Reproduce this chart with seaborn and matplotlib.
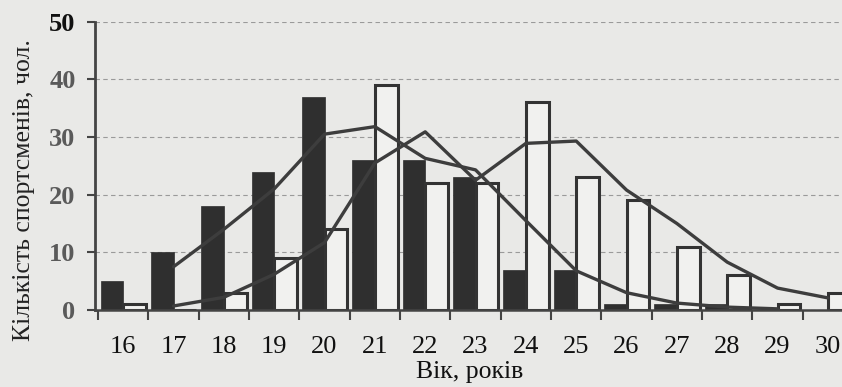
import matplotlib
matplotlib.use("Agg")
import matplotlib.pyplot as plt
import seaborn as sns
import pandas as pd
import numpy as np

# ---- data ----
ages = [16, 17, 18, 19, 20, 21, 22, 23, 24, 25, 26, 27, 28, 29, 30]
group_a = [5, 10, 18, 24, 37, 26, 26, 23, 7, 7, 1, 1, 1, 0, 0]      # filled bars
group_b = [1, 0, 3, 9, 14, 39, 22, 22, 36, 23, 19, 11, 6, 1, 3]     # open bars

curve_a_ages = [17, 18, 19, 20, 21, 22, 23, 24, 25, 26, 27, 28, 29]
curve_a = [7.5, 14, 21, 30.5, 31.8, 26.3, 24.3, 15.5, 6.8, 3, 1.2, 0.5, 0.2]
curve_b_ages = [17, 18, 19, 20, 21, 22, 23, 24, 25, 26, 27, 28, 29, 30]
curve_b = [0.7, 2.2, 6.2, 11.7, 25.5, 30.9, 22.5, 28.9, 29.3, 20.8, 15, 8.3, 3.8, 2.1]

y_ticks = [0, 10, 20, 30, 40, 50]
x_label = "Вік, років"
y_label = "Кількість спортсменів, чол."

# ---- styling ----
sns.set_theme(style="white")
plt.rcParams["font.family"] = ["Liberation Serif", "DejaVu Serif"]
bg = "#e9e9e7"
dark = "#2f2f2f"
line_col = "#3d3d3d"

fig = plt.figure(figsize=(8.42, 3.87), dpi=100, facecolor=bg)
ax = fig.add_axes([95 / 842, 77 / 387, (842 - 95) / 842, 288.3 / 387])
ax.set_facecolor(bg)

df = pd.DataFrame({
    "age": [str(a) for a in ages] * 2,
    "count": group_a + group_b,
    "grp": ["a"] * len(ages) + ["b"] * len(ages),
})
sns.barplot(data=df, x="age", y="count", hue="grp", order=[str(a) for a in ages],
            palette={"a": dark, "b": "#f1f1ef"}, width=0.9, dodge=True,
            legend=False, ax=ax, zorder=2)
for cont, (fc, ec, lw) in zip(ax.containers, [(dark, dark, 0.5), ("#f1f1ef", "#333333", 2.2)]):
    for p in cont:
        p.set_facecolor(fc)
        p.set_edgecolor(ec)
        p.set_linewidth(lw)

pos_a = [ages.index(a) for a in curve_a_ages]
pos_b = [ages.index(a) for a in curve_b_ages]
sns.lineplot(x=pos_a, y=curve_a, color=line_col, linewidth=2.4, ax=ax, zorder=3)
sns.lineplot(x=pos_b, y=curve_b, color=line_col, linewidth=2.4, ax=ax, zorder=3)

ax.set_xlim(-0.56, 14.28)
ax.set_ylim(0, 50)
ax.set_yticks(y_ticks)
ax.set_yticklabels([str(t) for t in y_ticks], fontsize=19, fontweight="bold")
for lab, t in zip(ax.get_yticklabels(), y_ticks):
    lab.set_color("#111111" if t == 50 else "#5a5a5a")
ax.tick_params(axis="y", direction="out", length=6, width=1.5, color="#444444", pad=8, left=True)

ax.set_xticks(range(len(ages)))
ax.set_xticklabels([str(a) for a in ages], fontsize=19, color="#111111")
ax.set_xticks(np.arange(-0.5, len(ages) - 0.5, 1.0), minor=True)
ax.tick_params(axis="x", which="major", length=0, pad=19)
ax.tick_params(axis="x", which="minor", direction="out", length=7, width=1.5, color="#444444", bottom=True)

ax.yaxis.grid(True, linestyle=(0, (4, 3)), color="#9a9a9a", linewidth=0.8)
ax.xaxis.grid(False)
ax.set_axisbelow(True)

for s in ["top", "right"]:
    ax.spines[s].set_visible(False)
ax.spines["left"].set_color("#444444")
ax.spines["left"].set_linewidth(2.0)
ax.spines["bottom"].set_color("#444444")
ax.spines["bottom"].set_linewidth(1.8)
ax.set_xlabel("")
ax.set_ylabel("")

fig.text(470 / 842, 1 - 372 / 387, x_label, ha="center", va="center", fontsize=18.5, color="#111111")
fig.text(24 / 842, 1 - 190 / 387, y_label, ha="center", va="center", rotation=90,
         fontsize=18.5, color="#222222")

fig.savefig("out.png", dpi=100, facecolor=bg)
